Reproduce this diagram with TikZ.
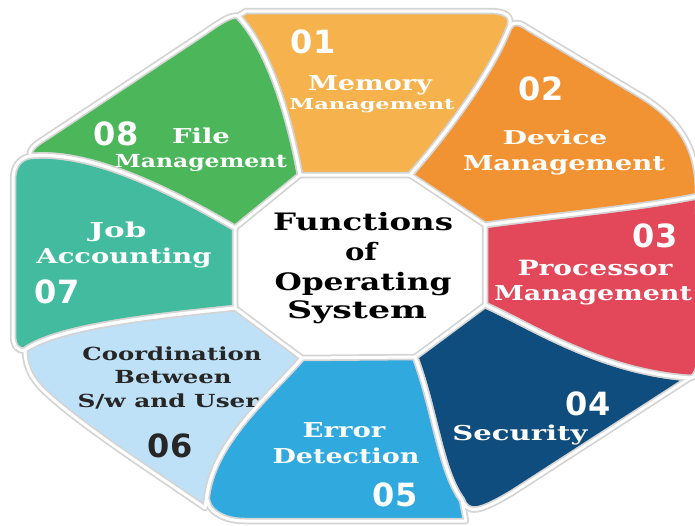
\documentclass[tikz,border=0pt]{standalone}
\usepackage{fontspec}
\usepackage{graphicx}
\newfontfamily\lblfont{DejaVu Serif}
\newfontfamily\numfont{DejaVu Sans}
\definecolor{cA}{HTML}{F5B24D}
\definecolor{cB}{HTML}{F29333}
\definecolor{cC}{HTML}{E2485A}
\definecolor{cD}{HTML}{0E4D7D}
\definecolor{cE}{HTML}{2FA9DE}
\definecolor{cF}{HTML}{BFE1F7}
\definecolor{cG}{HTML}{43BB9F}
\definecolor{cH}{HTML}{4CB65A}
\definecolor{darktext}{HTML}{262626}
% size, width, text
\newcommand\fw[3]{\fontsize{#1}{#1}\selectfont\resizebox{#2pt}{\height}{#3}}
\begin{document}
\begin{tikzpicture}[x=1pt,y=-1pt,
  segA/.style={insert path={(300,175) .. controls (290,120) and (270,50) .. (238,16) -- (246,11) -- (488,11) .. controls (505,11) and (515,15) .. (508,30) .. controls (490,75) and (445,135) .. (410,175) -- cycle}},
  segB/.style={insert path={(410,175) .. controls (445,135) and (490,75) .. (508,30) .. controls (512,20) and (520,22) .. (528,28) -- (640,95) .. controls (690,125) and (698,160) .. (698,196) .. controls (640,208) and (550,216) .. (485,225) -- cycle}},
  segC/.style={insert path={(485,225) .. controls (550,216) and (640,208) .. (698,196) -- (700,350) .. controls (700,368) and (696,378) .. (690,378) .. controls (600,372) and (530,325) .. (485,305) -- cycle}},
  segD/.style={insert path={(485,305) .. controls (530,325) and (600,372) .. (690,378) -- (512,493) .. controls (480,512) and (468,515) .. (462,500) .. controls (440,470) and (435,410) .. (415,357) -- cycle}},
  segE/.style={insert path={(415,357) .. controls (435,410) and (440,470) .. (462,500) -- (466,521) -- (245,521) .. controls (222,521) and (205,510) .. (207,495) .. controls (215,440) and (270,395) .. (302,358) -- cycle}},
  segF/.style={insert path={(302,358) .. controls (270,395) and (215,440) .. (207,495) -- (205,508) .. controls (150,470) and (80,425) .. (45,392) .. controls (28,376) and (25,362) .. (25,350) .. controls (60,325) and (170,315) .. (235,308) -- cycle}},
  segG/.style={insert path={(235,308) .. controls (170,315) and (60,325) .. (25,350) .. controls (17,352) and (13,345) .. (13,335) -- (13,180) .. controls (13,165) and (20,158) .. (30,156) .. controls (90,150) and (170,190) .. (235,228) -- cycle}},
  segH/.style={insert path={(235,228) .. controls (170,190) and (90,150) .. (30,156) .. controls (28,150) and (35,144) .. (45,138) -- (205,32) .. controls (222,20) and (232,14) .. (238,16) .. controls (270,50) and (290,120) .. (300,175) -- cycle}},
  shade/.style={draw=black!17, line width=6.5pt, line join=round},
  gap/.style={draw=white, line width=3pt, line join=round},
  lbl/.style={inner sep=0pt, anchor=base, text=white, font=\lblfont\bfseries},
  num/.style={inner sep=0pt, anchor=base, text=white, font=\numfont\bfseries\fontsize{32}{32}\selectfont},
]
\useasboundingbox (0,0) rectangle (695,525);
\fill[white] (0,0) rectangle (695,525);
% segments
\fill[cA, segA];
\fill[cB, segB];
\fill[cC, segC];
\fill[cD, segD];
\fill[cE, segE];
\fill[cF, segF];
\fill[cG, segG];
\fill[cH, segH];
% shaded gaps
\foreach \s in {segA,segB,segC,segD,segE,segF,segG,segH} {\path[shade, \s];}
\foreach \s in {segA,segB,segC,segD,segE,segF,segG,segH} {\path[gap, \s];}
% numbers
\node[num] (n01) at (313,53) {01};
\node[num] (n02) at (541,100) {02};
\node[num] (n03) at (655,247) {03};
\node[num] (n04) at (588,415) {04};
\node[num] (n05) at (395,506) {05};
\node[num, text=darktext] (n06) at (170,457) {06};
\node[num] (n07) at (57,303) {07};
\node[num] (n08) at (116,145) {08};
% labels
\node[lbl] (a1) at (370,90) {\fw{20.5}{124}{Memory}};
\node[lbl] (a2) at (372,109) {\fw{15}{165}{Management}};
\node[lbl] (b1) at (555,144) {\fw{19}{105}{Device}};
\node[lbl] (b2) at (564,170) {\fw{20.5}{202}{Management}};
\node[lbl] (c1) at (595,275) {\fw{21}{155}{Processor}};
\node[lbl] (c2) at (593,300) {\fw{20.5}{198}{Management}};
\node[lbl] (d1) at (520,440) {\fw{20.5}{135}{Security}};
\node[lbl] (e1) at (344,437) {\fw{20.5}{83}{Error}};
\node[lbl] (e2) at (346,463) {\fw{20.5}{147}{Detection}};
\node[lbl, text=darktext] (f1) at (172,360) {\fw{18}{179}{Coordination}};
\node[lbl, text=darktext] (f2) at (173,383) {\fw{18}{117}{Between}};
\node[lbl, text=darktext] (f3) at (168,407) {\fw{18}{181}{S/w and User}};
\node[lbl] (g1) at (118,237) {\fw{20.5}{57}{Job}};
\node[lbl] (g2) at (124,263) {\fw{20.5}{175}{Accounting}};
\node[lbl] (h1) at (201,143) {\fw{20.5}{58}{File}};
\node[lbl] (h2) at (201,167) {\fw{18}{172}{Management}};
% centre
\node[lbl, text=black] (t1) at (363,230) {\fw{24}{180}{Functions}};
\node[lbl, text=black] (t2) at (361,260) {\fw{24}{32}{of}};
\node[lbl, text=black] (t3) at (363,290) {\fw{24}{177}{Operating}};
\node[lbl, text=black] (t4) at (357,318) {\fw{24}{140}{System}};
\end{tikzpicture}
\end{document}
